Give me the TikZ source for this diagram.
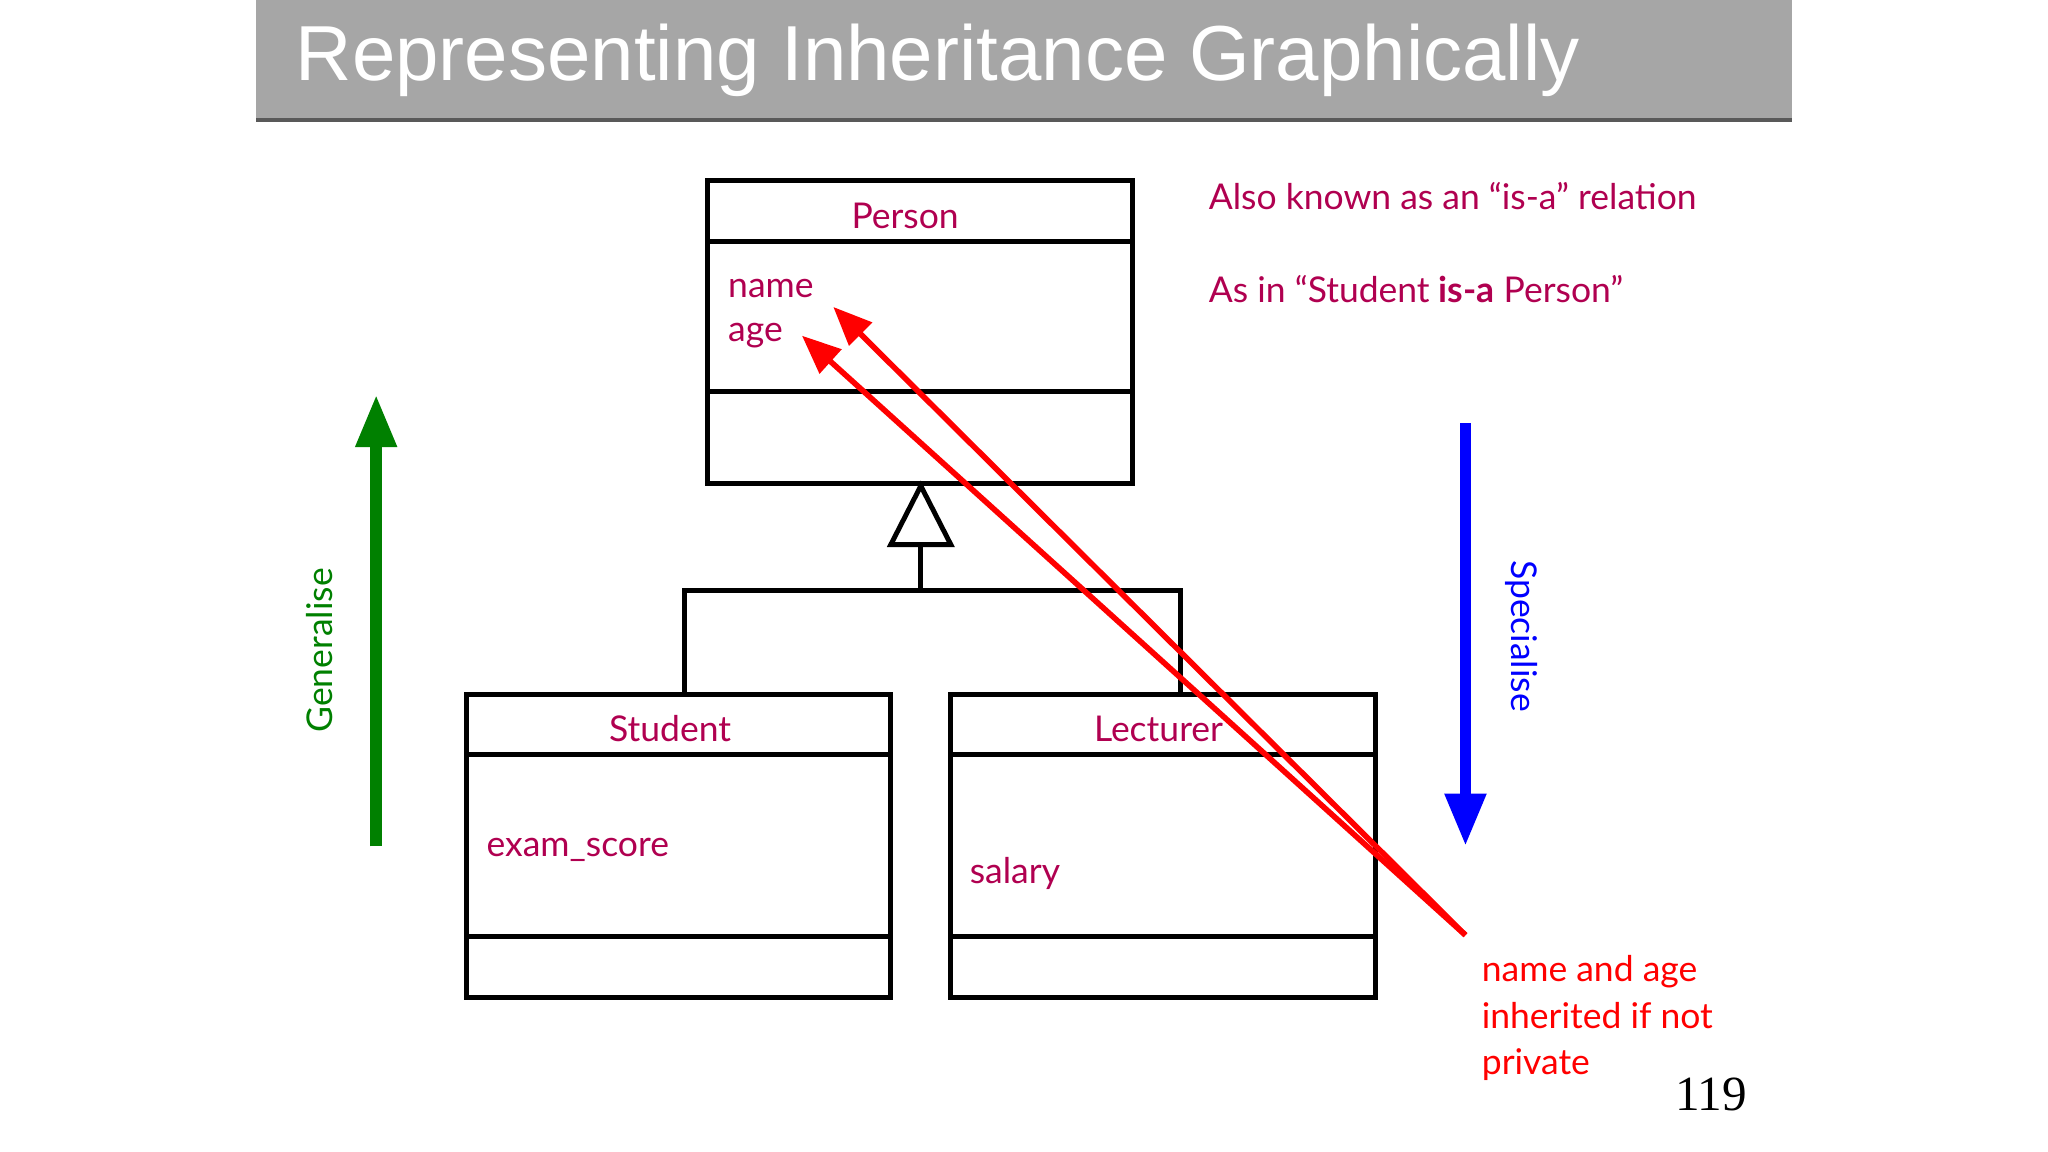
\documentclass[tikz,border=0pt]{standalone}
\usepackage{fontspec}
\setmainfont{Lato}
\newfontfamily\titlefont{Liberation Sans}
\newfontfamily\numfont{Liberation Serif}
\usetikzlibrary{arrows.meta}
\definecolor{crim}{RGB}{176,0,80}
\definecolor{tgray}{RGB}{166,166,166}
\definecolor{dgreen}{RGB}{0,128,0}
\begin{document}
\begin{tikzpicture}[x=0.013061cm,y=-0.013061cm,
  box/.style={line width=1.4pt,draw=black},
  lbl/.style={text=crim,font=\fontsize{10.1}{12}\selectfont,inner sep=0pt},
  redarrow/.style={red,line width=1.6pt,-{Triangle[length=11pt,width=9pt]}}]
\useasboundingbox (0,0) rectangle (1568,882);
\fill[tgray] (196,0) rectangle (1372,92);
\draw[gray!70!black,line width=1pt] (196,92) -- (1372,92);
\node[anchor=base west,text=white,inner sep=0pt,font=\titlefont\fontsize{22.2}{27}\selectfont] (title) at (226,62) {Representing Inheritance Graphically};
% Person
\draw[box] (542,138) rectangle (867,370);
\draw[box] (542,185) -- (867,185);
\draw[box] (542,300) -- (867,300);
\node[lbl] (person) at (693,165) {Person};
\node[lbl,anchor=west] (name) at (557,221) {name};
\node[lbl,anchor=west] (age) at (557,257) {age};
% Student
\draw[box] (357,532) rectangle (682,764);
\draw[box] (357,578) -- (682,578);
\draw[box] (357,717) -- (682,717);
\node[lbl] (student) at (513,558) {Student};
\node[lbl,anchor=west] (exam) at (372,651) {exam\_score};
% Lecturer
\draw[box] (728,532) rectangle (1053,764);
\draw[box] (728,578) -- (1053,578);
\draw[box] (728,717) -- (1053,717);
\node[lbl] (lect) at (887,558) {Lecturer};
\node[lbl,anchor=west] (sal) at (742,669) {salary};
% inheritance
\draw[box,fill=white] (705,372) -- (728,417) -- (682,417) -- cycle;
\draw[box] (705,417) -- (705,452);
\draw[box] (524,532) -- (524,452) -- (904,452) -- (904,532);
% red arrows
\coordinate (src) at (1122,716);
\coordinate (t1) at (638,235);
\coordinate (t2) at (614,257);
\draw[redarrow] (src) -- (t1);
\draw[redarrow] (src) -- (t2);
\node[anchor=north west,text=red,inner sep=0pt,align=left,font=\fontsize{10.1}{13.2}\selectfont] (note) at (1134,731) {name and age\\inherited if not\\private};
\node[anchor=base,inner sep=0pt,font=\numfont\fontsize{14}{16}\selectfont] (num) at (1310,850) {119};
% generalise
\coordinate (g1) at (288,648);
\coordinate (g2) at (288,302);
\draw[dgreen,line width=3.4pt,-{Triangle[length=15pt,width=11pt]}] (g1) -- (g2);
\node[rotate=90,text=dgreen,inner sep=0pt,font=\fontsize{10.1}{12}\selectfont] (gen) at (245,498) {Generalise};
\coordinate (b1) at (1122,324);
\coordinate (b2) at (1122,648);
\draw[blue,line width=3.4pt,-{Triangle[length=15pt,width=11pt]}] (b1) -- (b2);
\node[rotate=-90,text=blue,inner sep=0pt,font=\fontsize{10.1}{12}\selectfont] (spec) at (1165,487) {Specialise};
\node[lbl,anchor=west] (aka) at (925,150) {Also known as an “is-a” relation};
\node[lbl,anchor=west] (asin) at (925,221) {As in “Student \textbf{is-a} Person”};
\end{tikzpicture}
\end{document}
